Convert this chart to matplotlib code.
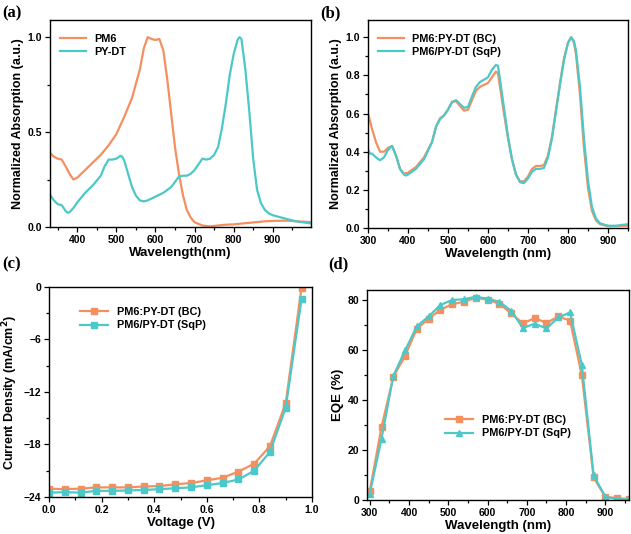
import numpy as np
import matplotlib.pyplot as plt
from matplotlib.ticker import MultipleLocator

plt.rcParams["font.family"] = ["Liberation Sans", "DejaVu Sans"]
plt.rcParams["font.weight"] = "bold"
plt.rcParams["axes.labelweight"] = "bold"

ORANGE = "#F4905F"
CYAN = "#4CC8C8"

# --- (a) absorption of neat films ---
wl_pm6 = [330, 340, 350, 360, 370, 380, 390, 400, 420, 440, 460, 480, 500, 520,
          540, 560, 570, 580, 590, 600, 610, 620, 630, 640, 650, 660, 670, 680,
          690, 700, 720, 740, 760, 780, 800, 820, 840, 860, 880, 900, 920, 940,
          960, 980, 1000]
abs_pm6 = [0.39, 0.37, 0.36, 0.355, 0.32, 0.28, 0.25, 0.26, 0.30, 0.34, 0.38,
           0.43, 0.49, 0.58, 0.68, 0.83, 0.94, 1.0, 0.99, 0.985, 0.99, 0.93,
           0.78, 0.60, 0.42, 0.28, 0.17, 0.09, 0.05, 0.025, 0.008, 0.003, 0.008,
           0.012, 0.014, 0.018, 0.022, 0.026, 0.03, 0.032, 0.033, 0.033, 0.03,
           0.028, 0.025]
wl_pydt = [330, 340, 350, 360, 370, 375, 380, 390, 400, 420, 440, 460, 470, 480,
           490, 500, 510, 515, 520, 530, 540, 550, 560, 570, 580, 600, 620, 640,
           660, 670, 680, 690, 700, 710, 720, 730, 740, 750, 760, 770, 780, 790,
           800, 810, 815, 820, 830, 840, 850, 860, 870, 880, 890, 900, 920, 940,
           960, 980, 1000]
abs_pydt = [0.17, 0.14, 0.12, 0.115, 0.085, 0.075, 0.078, 0.10, 0.13, 0.18, 0.22,
            0.27, 0.32, 0.355, 0.355, 0.36, 0.375, 0.37, 0.35, 0.28, 0.21, 0.165,
            0.14, 0.135, 0.14, 0.16, 0.18, 0.21, 0.265, 0.27, 0.27, 0.28, 0.30,
            0.33, 0.36, 0.355, 0.36, 0.38, 0.42, 0.52, 0.65, 0.80, 0.91, 0.985,
            1.0, 0.99, 0.83, 0.61, 0.36, 0.195, 0.125, 0.09, 0.072, 0.062, 0.051,
            0.040, 0.030, 0.024, 0.018]

# --- (b) absorption of blend films ---
wl_bc = [300, 310, 320, 330, 340, 350, 360, 370, 380, 390, 400, 420, 440, 460,
         470, 480, 490, 500, 510, 520, 530, 540, 550, 560, 570, 580, 600, 610,
         620, 625, 630, 640, 650, 660, 670, 680, 690, 700, 710, 720, 730, 740,
         750, 760, 770, 780, 790, 800, 808, 815, 820, 830, 840, 850, 860, 870,
         880, 900, 920, 950]
abs_bc = [0.60, 0.52, 0.45, 0.40, 0.40, 0.42, 0.43, 0.38, 0.31, 0.285, 0.29, 0.32,
          0.37, 0.45, 0.53, 0.575, 0.59, 0.62, 0.66, 0.665, 0.64, 0.615, 0.62,
          0.67, 0.72, 0.74, 0.76, 0.79, 0.82, 0.81, 0.74, 0.60, 0.47, 0.36, 0.28,
          0.245, 0.245, 0.27, 0.31, 0.325, 0.325, 0.33, 0.38, 0.48, 0.62, 0.76,
          0.89, 0.97, 1.0, 0.97, 0.91, 0.70, 0.42, 0.21, 0.09, 0.04, 0.02, 0.01,
          0.01, 0.012]
wl_sqp = [300, 305, 310, 320, 330, 340, 350, 360, 370, 380, 390, 395, 400, 420,
          440, 460, 470, 480, 490, 500, 510, 520, 530, 540, 550, 560, 570, 580,
          600, 610, 620, 625, 630, 640, 650, 660, 670, 680, 690, 700, 710, 720,
          730, 740, 750, 760, 770, 780, 790, 800, 808, 815, 820, 830, 840, 850,
          860, 870, 880, 900, 920, 950]
abs_sqp = [0.41, 0.39, 0.39, 0.37, 0.355, 0.37, 0.41, 0.43, 0.38, 0.31, 0.28,
           0.275, 0.28, 0.31, 0.36, 0.45, 0.53, 0.57, 0.59, 0.62, 0.66, 0.67,
           0.65, 0.63, 0.635, 0.69, 0.74, 0.765, 0.79, 0.83, 0.855, 0.85, 0.78,
           0.63, 0.48, 0.36, 0.28, 0.24, 0.235, 0.26, 0.295, 0.31, 0.31, 0.315,
           0.37, 0.47, 0.61, 0.75, 0.88, 0.97, 1.0, 0.98, 0.93, 0.74, 0.47, 0.25,
           0.11, 0.05, 0.025, 0.012, 0.012, 0.02]

# --- (c) J-V curves ---
voltage = [0.0, 0.06, 0.12, 0.18, 0.24, 0.30, 0.36, 0.42, 0.48, 0.54, 0.60,
           0.66, 0.72, 0.78, 0.84, 0.90, 0.96]
j_bc = [-23.05, -23.1, -23.05, -22.9, -22.9, -22.9, -22.8, -22.75, -22.55,
        -22.4, -22.1, -21.8, -21.1, -20.2, -18.2, -13.25, -0.1]
j_sqp = [-23.5, -23.45, -23.5, -23.3, -23.3, -23.25, -23.2, -23.1, -23.0,
         -22.9, -22.65, -22.4, -22.0, -21.0, -18.85, -13.8, -1.4]

# --- (d) EQE ---
wl_eqe = [300, 330, 360, 390, 420, 450, 480, 510, 540, 570, 600, 630, 660, 690,
          720, 750, 780, 810, 840, 870, 900, 930, 960]
eqe_bc = [3.5, 29.2, 49.2, 57.7, 68.5, 72.5, 76.1, 78.3, 79.3, 80.9, 80.1, 78.5,
          74.6, 70.6, 72.8, 70.8, 73.4, 71.7, 49.8, 9.0, 1.2, 0.8, 0.3]
eqe_sqp = [2.5, 24.5, 49.6, 59.8, 69.5, 73.4, 78.0, 80.0, 80.3, 81.3, 80.5, 79.3,
           75.7, 68.8, 70.5, 68.6, 73.0, 75.0, 54.0, 9.8, 1.3, 0.3, 0.2]

TICK_FS = 7.5
LABEL_FS = 9.5
LEG_FS = 7.8
LW = 1.6


def style_axes(ax):
    ax.tick_params(which="both", direction="out", top=False, right=False,
                   labelsize=TICK_FS, width=0.9, pad=2)
    ax.tick_params(which="major", length=3.5)
    ax.tick_params(which="minor", length=2)
    for s in ax.spines.values():
        s.set_linewidth(1.0)
    for lab in ax.get_xticklabels() + ax.get_yticklabels():
        lab.set_fontweight("bold")


fig = plt.figure(figsize=(6.31, 5.34), dpi=100)

# (a)
ax = fig.add_axes([0.0792, 0.5749, 0.4137, 0.3876])
ax.plot(wl_pm6, abs_pm6, color=ORANGE, lw=LW, label="PM6")
ax.plot(wl_pydt, abs_pydt, color=CYAN, lw=LW, label="PY-DT")
ax.set_xlim(330, 998)
ax.set_ylim(0, 1.09)
ax.xaxis.set_major_locator(MultipleLocator(100))
ax.xaxis.set_minor_locator(MultipleLocator(50))
ax.yaxis.set_major_locator(MultipleLocator(0.5))
ax.yaxis.set_minor_locator(MultipleLocator(0.25))
ax.set_xlabel("Wavelength(nm)", fontsize=LABEL_FS, labelpad=2)
ax.set_ylabel("Normalized Absorption (a.u.)", fontsize=LABEL_FS - 0.5,
              labelpad=3)
ax.legend(loc="upper left", frameon=False, fontsize=LEG_FS, handlelength=2.4,
          borderaxespad=0.5, labelspacing=0.3, bbox_to_anchor=(0.0, 0.98))
style_axes(ax)

# (b)
ax = fig.add_axes([0.5832, 0.5730, 0.4120, 0.3895])
ax.plot(wl_bc, abs_bc, color=ORANGE, lw=LW, label="PM6:PY-DT (BC)")
ax.plot(wl_sqp, abs_sqp, color=CYAN, lw=LW, label="PM6/PY-DT (SqP)")
ax.set_xlim(300, 950)
ax.set_ylim(0, 1.09)
ax.xaxis.set_major_locator(MultipleLocator(100))
ax.xaxis.set_minor_locator(MultipleLocator(50))
ax.yaxis.set_major_locator(MultipleLocator(0.2))
ax.yaxis.set_minor_locator(MultipleLocator(0.1))
ax.set_xlabel("Wavelength (nm)", fontsize=LABEL_FS, labelpad=2)
ax.set_ylabel("Normalized Absorption (a.u.)", fontsize=LABEL_FS - 0.5,
              labelpad=3)
ax.legend(loc="upper left", frameon=False, fontsize=LEG_FS, handlelength=2.4,
          borderaxespad=0.5, labelspacing=0.3, bbox_to_anchor=(0.0, 0.98))
style_axes(ax)

# (c)
ax = fig.add_axes([0.0777, 0.0693, 0.4168, 0.3933])
ax.plot(voltage, j_bc, color=ORANGE, lw=LW, marker="s", ms=3.8,
        label="PM6:PY-DT (BC)")
ax.plot(voltage, j_sqp, color=CYAN, lw=LW, marker="s", ms=3.8,
        label="PM6/PY-DT (SqP)")
ax.set_xlim(0, 1.0)
ax.set_ylim(-24, 0)
ax.xaxis.set_major_locator(MultipleLocator(0.2))
ax.xaxis.set_minor_locator(MultipleLocator(0.1))
ax.yaxis.set_major_locator(MultipleLocator(6))
ax.yaxis.set_minor_locator(MultipleLocator(3))
ax.set_xlabel("Voltage (V)", fontsize=LABEL_FS, labelpad=2)
ax.set_ylabel("Current Density (mA/cm$^\\mathbf{2}$)", fontsize=LABEL_FS - 0.5,
              labelpad=3)
ax.legend(loc="upper left", frameon=False, fontsize=LEG_FS, handlelength=2.6,
          labelspacing=0.3, bbox_to_anchor=(0.08, 0.95))
style_axes(ax)

# (d)
ax = fig.add_axes([0.5816, 0.0637, 0.4152, 0.3933])
ax.plot(wl_eqe, eqe_bc, color=ORANGE, lw=LW, marker="s", ms=3.8,
        label="PM6:PY-DT (BC)")
ax.plot(wl_eqe, eqe_sqp, color=CYAN, lw=LW, marker="^", ms=4.2,
        label="PM6/PY-DT (SqP)")
ax.set_xlim(293, 960)
ax.set_ylim(0, 84)
ax.xaxis.set_major_locator(MultipleLocator(100))
ax.xaxis.set_minor_locator(MultipleLocator(50))
ax.yaxis.set_major_locator(MultipleLocator(20))
ax.yaxis.set_minor_locator(MultipleLocator(10))
ax.set_xlabel("Wavelength (nm)", fontsize=LABEL_FS, labelpad=2)
ax.set_ylabel("EQE (%)", fontsize=LABEL_FS, labelpad=3)
ax.legend(loc="upper left", frameon=False, fontsize=LEG_FS, handlelength=2.6,
          labelspacing=0.3, bbox_to_anchor=(0.26, 0.45))
style_axes(ax)

# panel labels
for txt, x, y in [("(a)", 0.003, 0.99), ("(b)", 0.508, 0.99),
                  ("(c)", 0.003, 0.52), ("(d)", 0.52, 0.52)]:
    fig.text(x, y, txt, fontsize=12, fontweight="bold", va="top",
             family=["Liberation Serif", "DejaVu Serif"])

fig.savefig("out.png", dpi=100)
